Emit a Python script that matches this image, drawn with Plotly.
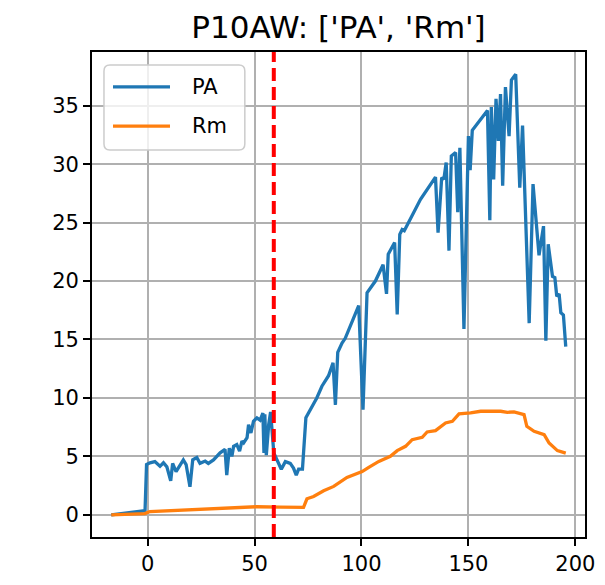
import plotly.graph_objects as go

# PA series (x = day, y = value)
pa_x = [-17, -1.2, -0.5, 1.1, 3.4, 5.8, 7.4, 9.0, 10.8, 11.7, 13.3, 15.2, 16.7, 18.0, 19.8,
        21.1, 23.0, 24.5, 26.9, 28.4, 30.8, 33.9, 36.2, 37.0, 38.2, 39.4, 40.2, 41.7, 43.0,
        44.1, 44.9, 46.5, 47.2, 48.3, 49.5, 51.1, 52.6, 53.9, 54.4, 54.8, 55.5, 56.6, 57.5,
        59.0, 60.4, 62.5, 64.4, 66.7, 68.2, 69.5, 70.6, 72.4, 74.0, 76.8, 79.1, 81.5, 84.6,
        86.7, 87.8, 88.9, 90.9, 92.4, 94.8, 98.7, 100.7, 102.6, 106.5, 110.1, 111.7, 112.5,
        115.5, 116.7, 117.9, 119.0, 120.0, 127.6, 134.6, 135.8, 137.5, 138.5, 139.6, 140.9,
        142.0, 144.0, 145.0, 146.0, 147.9, 150.0, 150.8, 151.8, 158.9, 160.0, 160.7, 161.8,
        162.9, 164.0, 165.0, 166.0, 167.3, 169.0, 170.1, 172.1, 174.0, 175.3, 178.4, 180.2,
        183.0, 185.1, 186.2, 187.3, 189.3, 190.4, 191.3, 192.4, 193.2, 194.4, 195.5]
pa_y = [0.0, 0.35, 4.3, 4.45, 4.55, 4.15, 4.45, 4.1, 2.9, 4.4, 3.7, 4.3, 4.7, 4.3, 2.4,
        4.7, 4.9, 4.4, 4.6, 4.4, 4.7, 5.3, 5.6, 3.4, 5.7, 5.0, 5.85, 6.0, 5.45,
        6.3, 6.15, 6.6, 7.7, 7.0, 8.0, 8.3, 8.1, 8.7, 5.3, 8.6, 5.1, 7.7, 8.8,
        5.3, 4.8, 3.9, 4.55, 4.4, 4.0, 3.4, 3.9, 3.9, 8.3, 9.2, 10.0, 11.0, 11.9,
        13.0, 9.4, 13.9, 14.7, 15.1, 16.2, 17.9, 9.0, 19.0, 20.0, 21.4, 18.9, 22.3,
        23.3, 17.15, 24.0, 24.4, 24.3, 27.0, 28.9, 24.15, 28.85, 28.7, 30.15, 22.6,
        30.7, 31.0, 25.9, 31.4, 15.9, 32.4, 29.5, 32.9, 34.6, 25.2, 34.9, 28.7,
        35.6, 32.0, 36.0, 28.15, 36.6, 32.4, 37.2, 37.7, 28.0, 33.3, 16.4, 28.3,
        22.2, 24.7, 14.9, 23.15, 20.4, 20.3, 18.7, 18.9, 17.3, 17.1, 14.4]

# Rm series
rm_x = [-17, -1.3, 1.1, 19.8, 35.4, 51.0, 62.0, 72.9, 74.5, 77.6, 82.3, 87.0, 93.2, 100.3,
        103.4, 108.1, 113.5, 116.7, 120.6, 123.7, 128.4, 130.7, 134.6, 139.3, 142.5, 145.6,
        151.0, 155.7, 165.1, 168.2, 171.3, 176.0, 177.3, 180.7, 185.4, 187.7, 191.6, 195.5]
rm_y = [0.0, 0.1, 0.28, 0.43, 0.57, 0.69, 0.65, 0.63, 1.37, 1.57, 2.06, 2.43, 3.2, 3.7,
        4.06, 4.57, 5.0, 5.49, 5.86, 6.43, 6.63, 7.09, 7.2, 7.86, 8.0, 8.63,
        8.72, 8.86, 8.86, 8.77, 8.8, 8.57, 7.57, 7.14, 6.86, 6.14, 5.49, 5.28]

event_x = 59
title_text = "P10AW: ['PA', 'Rm']"
x_ticks = [0, 50, 100, 150, 200]
y_ticks = [0, 5, 10, 15, 20, 25, 30, 35]
series_names = ["PA", "Rm"]
series_colors = ["#1f77b4", "#ff7f0e"]

FONT = "DejaVu Sans"

fig = go.Figure()
for name, xs, ys, col in zip(series_names, [pa_x, rm_x], [pa_y, rm_y], series_colors):
    fig.add_trace(go.Scatter(x=xs, y=ys, mode="lines", name=name, showlegend=False,
                             line=dict(color=col, width=3.3)))

fig.add_shape(type="line", x0=event_x, x1=event_x, y0=0, y1=1, xref="x", yref="paper",
              line=dict(color="red", width=4, dash="13px,6px"), layer="above")

# Legend box (matplotlib style, rounded corners), in paper coordinates
x0, x1, y0, y1 = 0.0243, 0.310, 0.798, 0.973
rx, ry = 0.012, 0.0124
path = (f"M {x0+rx},{y1} L {x1-rx},{y1} Q {x1},{y1} {x1},{y1-ry} "
        f"L {x1},{y0+ry} Q {x1},{y0} {x1-rx},{y0} L {x0+rx},{y0} "
        f"Q {x0},{y0} {x0},{y0+ry} L {x0},{y1-ry} Q {x0},{y1} {x0+rx},{y1} Z")
fig.add_shape(type="path", path=path, xref="paper", yref="paper",
              fillcolor="rgba(255,255,255,0.8)", line=dict(color="#cccccc", width=1.5),
              layer="above")
legend_rows = [0.928, 0.847]
for name, col, yy in zip(series_names, series_colors, legend_rows):
    fig.add_shape(type="line", x0=0.0426, x1=0.1582, y0=yy, y1=yy, xref="paper", yref="paper",
                  line=dict(color=col, width=3.3), layer="above")
    fig.add_annotation(x=0.1988, y=yy, xref="paper", yref="paper", text=name,
                       showarrow=False, xanchor="left", yanchor="middle",
                       font=dict(family=FONT, size=21, color="black"))

axis_common = dict(showgrid=True, gridcolor="#b0b0b0", gridwidth=1.6,
                   showline=True, mirror=True, linecolor="black", linewidth=1.7,
                   ticks="outside", ticklen=7, tickwidth=1.7, tickcolor="black",
                   tickfont=dict(family=FONT, size=21, color="black"), zeroline=False)

fig.update_layout(
    width=605, height=585,
    margin=dict(l=84, r=28, t=44, b=56),
    paper_bgcolor="white", plot_bgcolor="white",
    title=dict(text=title_text, x=0.5, xref="paper", xanchor="center",
               y=1 - 19 / 585, yref="container", yanchor="middle",
               font=dict(family=FONT, size=31, color="black")),
    xaxis=dict(range=[-26, 204.5], tickvals=x_ticks, **axis_common),
    yaxis=dict(range=[-1.9, 39.6], tickvals=y_ticks, **axis_common),
    showlegend=False,
)

fig.write_html("out.html")
